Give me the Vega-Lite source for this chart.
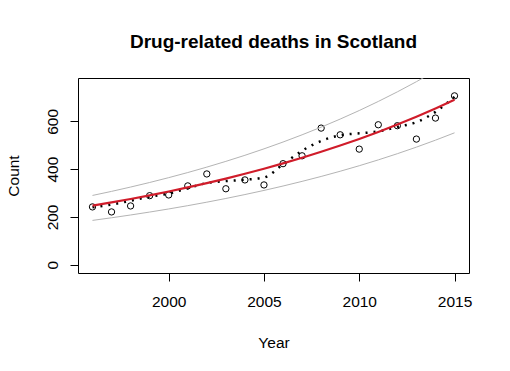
{
  "$schema": "https://vega.github.io/schema/vega-lite/v6.json",
  "width": 391,
  "height": 195,
  "autosize": {"type": "none"},
  "padding": {"left": 78, "top": 78, "right": 41, "bottom": 98},
  "background": "white",
  "title": {
    "text": "Drug-related deaths in Scotland",
    "fontSize": 19,
    "fontWeight": "bold",
    "font": "Liberation Sans",
    "color": "black",
    "anchor": "middle",
    "baseline": "alphabetic",
    "offset": 11
  },
  "config": {
    "view": {"stroke": "black", "strokeWidth": 1},
    "axis": {
      "domain": false,
      "grid": false,
      "tickColor": "black",
      "tickSize": 8,
      "tickWidth": 1,
      "labelColor": "black",
      "labelFont": "Liberation Sans",
      "labelFontSize": 15.5,
      "labelPadding": 13,
      "titleColor": "black",
      "titleFont": "Liberation Sans",
      "titleFontSize": 15.5,
      "titleFontWeight": "normal"
    }
  },
  "datasets": {
    "points": [
      {"year": 1996, "count": 242},
      {"year": 1997, "count": 221},
      {"year": 1998, "count": 246},
      {"year": 1999, "count": 289},
      {"year": 2000, "count": 292},
      {"year": 2001, "count": 330},
      {"year": 2002, "count": 380},
      {"year": 2003, "count": 318},
      {"year": 2004, "count": 355},
      {"year": 2005, "count": 334},
      {"year": 2006, "count": 423},
      {"year": 2007, "count": 456},
      {"year": 2008, "count": 572},
      {"year": 2009, "count": 544},
      {"year": 2010, "count": 484},
      {"year": 2011, "count": 586},
      {"year": 2012, "count": 582},
      {"year": 2013, "count": 526},
      {"year": 2014, "count": 614},
      {"year": 2015, "count": 707}
    ],
    "fit": [
      {"year": 1996, "value": 247},
      {"year": 1997, "value": 260.7},
      {"year": 1998, "value": 275.2},
      {"year": 1999, "value": 290.5},
      {"year": 2000, "value": 306.6},
      {"year": 2001, "value": 323.7},
      {"year": 2002, "value": 341.7},
      {"year": 2003, "value": 360.7},
      {"year": 2004, "value": 380.7},
      {"year": 2005, "value": 401.9},
      {"year": 2006, "value": 424.2},
      {"year": 2007, "value": 447.8},
      {"year": 2008, "value": 472.7},
      {"year": 2009, "value": 499.0},
      {"year": 2010, "value": 526.7},
      {"year": 2011, "value": 556.0},
      {"year": 2012, "value": 586.9},
      {"year": 2013, "value": 619.5},
      {"year": 2014, "value": 654.0},
      {"year": 2015, "value": 690.3}
    ],
    "bands": [
      {"year": 1996, "series": "upper", "value": 290},
      {"year": 1997, "series": "upper", "value": 307.0},
      {"year": 1998, "series": "upper", "value": 325.1},
      {"year": 1999, "series": "upper", "value": 344.2},
      {"year": 2000, "series": "upper", "value": 364.5},
      {"year": 2001, "series": "upper", "value": 385.9},
      {"year": 2002, "series": "upper", "value": 408.6},
      {"year": 2003, "series": "upper", "value": 432.7},
      {"year": 2004, "series": "upper", "value": 458.1},
      {"year": 2005, "series": "upper", "value": 485.1},
      {"year": 2006, "series": "upper", "value": 513.6},
      {"year": 2007, "series": "upper", "value": 543.9},
      {"year": 2008, "series": "upper", "value": 575.9},
      {"year": 2009, "series": "upper", "value": 609.8},
      {"year": 2010, "series": "upper", "value": 645.6},
      {"year": 2011, "series": "upper", "value": 683.6},
      {"year": 2012, "series": "upper", "value": 723.8},
      {"year": 2013, "series": "upper", "value": 766.4},
      {"year": 2014, "series": "upper", "value": 811.5},
      {"year": 2015, "series": "upper", "value": 859.3},
      {"year": 1996, "series": "lower", "value": 185.5},
      {"year": 1997, "series": "lower", "value": 196.5},
      {"year": 1998, "series": "lower", "value": 208.1},
      {"year": 1999, "series": "lower", "value": 220.4},
      {"year": 2000, "series": "lower", "value": 233.4},
      {"year": 2001, "series": "lower", "value": 247.2},
      {"year": 2002, "series": "lower", "value": 261.8},
      {"year": 2003, "series": "lower", "value": 277.3},
      {"year": 2004, "series": "lower", "value": 293.7},
      {"year": 2005, "series": "lower", "value": 311.0},
      {"year": 2006, "series": "lower", "value": 329.4},
      {"year": 2007, "series": "lower", "value": 348.9},
      {"year": 2008, "series": "lower", "value": 369.5},
      {"year": 2009, "series": "lower", "value": 391.3},
      {"year": 2010, "series": "lower", "value": 414.4},
      {"year": 2011, "series": "lower", "value": 438.9},
      {"year": 2012, "series": "lower", "value": 464.8},
      {"year": 2013, "series": "lower", "value": 492.3},
      {"year": 2014, "series": "lower", "value": 521.4},
      {"year": 2015, "series": "lower", "value": 552.2}
    ],
    "smooth": [
      {"year": 1996, "value": 241},
      {"year": 1997, "value": 252},
      {"year": 1998, "value": 268},
      {"year": 1999, "value": 285},
      {"year": 2000, "value": 298},
      {"year": 2001, "value": 320},
      {"year": 2002, "value": 342},
      {"year": 2003, "value": 350},
      {"year": 2004, "value": 356},
      {"year": 2005, "value": 365},
      {"year": 2006, "value": 420},
      {"year": 2007, "value": 477},
      {"year": 2008, "value": 518},
      {"year": 2009, "value": 542},
      {"year": 2010, "value": 550},
      {"year": 2011, "value": 558},
      {"year": 2012, "value": 577},
      {"year": 2013, "value": 597},
      {"year": 2014, "value": 640},
      {"year": 2015, "value": 703}
    ]
  },
  "encoding": {
    "x": {
      "field": "year",
      "type": "quantitative",
      "scale": {"domain": [1995.24, 2015.76], "nice": false, "zero": false},
      "axis": {
        "title": "Year",
        "values": [2000, 2005, 2010, 2015],
        "format": "d",
        "titleBaseline": "alphabetic",
        "titleY": 74,
        "titleX": 195.5
      }
    }
  },
  "layer": [
    {
      "data": {"name": "points"},
      "mark": {"type": "point", "shape": "circle", "filled": false, "color": "black", "size": 40, "strokeWidth": 1, "opacity": 1},
      "encoding": {
        "y": {
          "field": "count",
          "type": "quantitative",
          "scale": {"domain": [-34.8, 781.8], "nice": false, "zero": false},
          "axis": {
            "title": "Count",
            "values": [0, 200, 400, 600],
            "labelAngle": 270,
            "labelAlign": "center",
            "labelBaseline": "alphabetic",
            "titleAngle": 270,
            "titleBaseline": "alphabetic",
            "titleX": -60,
            "titleY": 97.5
          }
        }
      }
    },
    {
      "data": {"name": "bands"},
      "mark": {"type": "line", "color": "#b4b4b4", "strokeWidth": 1, "clip": true},
      "encoding": {
        "y": {"field": "value", "type": "quantitative"},
        "detail": {"field": "series"}
      }
    },
    {
      "data": {"name": "smooth"},
      "mark": {"type": "line", "color": "black", "strokeWidth": 2.5, "strokeDash": [2, 6], "interpolate": "monotone"},
      "encoding": {
        "y": {"field": "value", "type": "quantitative"}
      }
    },
    {
      "data": {"name": "fit"},
      "mark": {"type": "line", "color": "#d01c2a", "strokeWidth": 2.2},
      "encoding": {
        "y": {"field": "value", "type": "quantitative"}
      }
    }
  ]
}
